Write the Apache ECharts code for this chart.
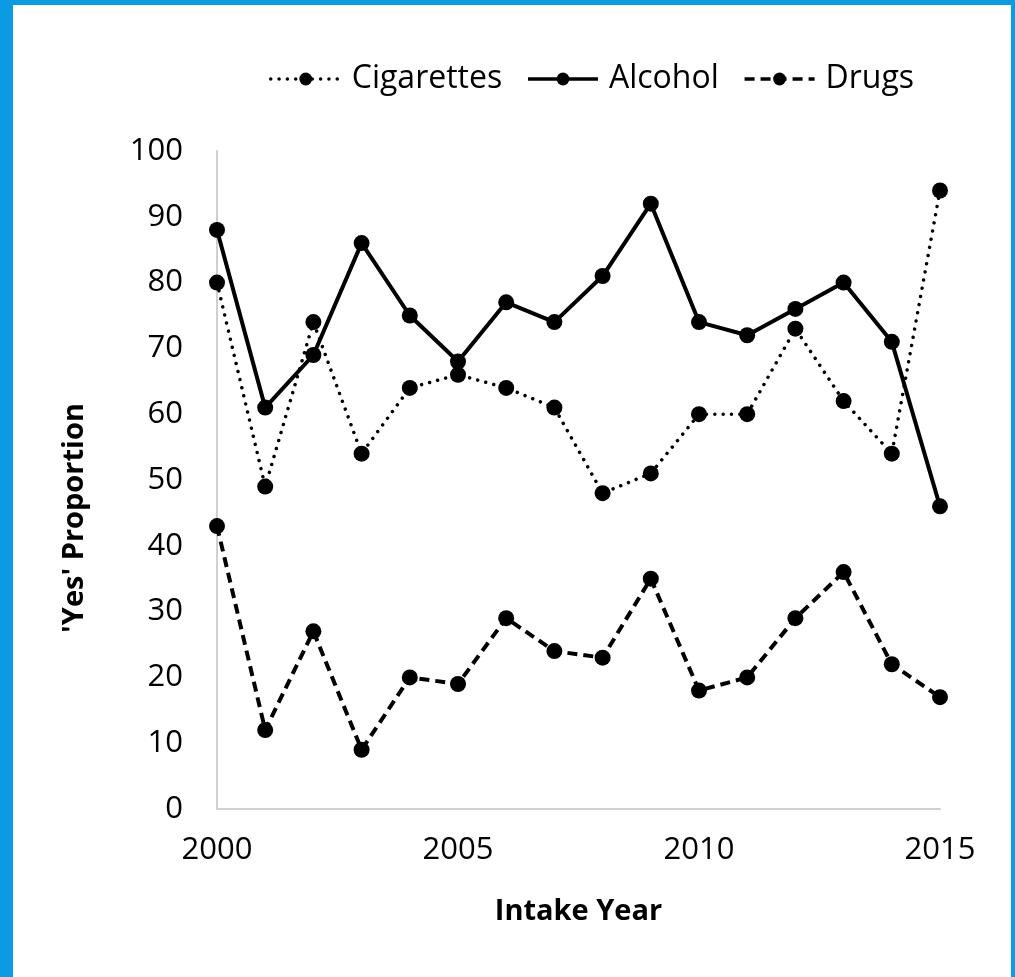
<!DOCTYPE html>
<html>
<head>
<meta charset="utf-8">
<script src="https://cdn.jsdelivr.net/npm/echarts@6/dist/echarts.min.js"></script>
<style>
html,body{margin:0;padding:0;background:#fff;}
#chart{width:1015px;height:977px;}
</style>
</head>
<body>
<div id="chart"></div>
<script>
var years = [2000,2001,2002,2003,2004,2005,2006,2007,2008,2009,2010,2011,2012,2013,2014,2015];
var cigarettes = [80,49,74,54,64,66,64,61,48,51,60,60,73,62,54,94];
var alcohol = [88,61,69,86,75,68,77,74,81,92,74,72,76,80,71,46];
var drugs = [43,12,27,9,20,19,29,24,23,35,18,20,29,36,22,17];
var seriesNames = ['Cigarettes','Alcohol','Drugs'];
var xTitle = 'Intake Year';
var yTitle = "'Yes' Proportion";

function pairs(vals){ return years.map(function(y,i){ return [y, vals[i]]; }); }

var FONT = "'Open Sans', sans-serif";
var chart = echarts.init(document.getElementById('chart'));
var common = { type:'line', symbol:'circle', symbolSize:16, itemStyle:{color:'#000'} };
chart.setOption({
  backgroundColor:'#fff',
  animation:false,
  textStyle:{fontFamily:FONT},
  graphic:[
    {type:'rect', shape:{x:0,y:0,width:13,height:977}, style:{fill:'#0B9BE0'}},
    {type:'rect', shape:{x:0,y:0,width:1015,height:5}, style:{fill:'#0B9BE0'}},
    {type:'rect', shape:{x:1011,y:0,width:4,height:977}, style:{fill:'#0B9BE0'}}
  ],
  legend:{
    left:264, top:58,
    itemWidth:70, itemHeight:16, itemGap:24,
    lineStyle:{width:3.5},
    textStyle:{fontSize:32, color:'#000', fontFamily:FONT, padding:[0,0,0,6]},
    data:seriesNames
  },
  grid:{left:217, right:75, top:151, bottom:168},
  xAxis:{
    type:'value', min:2000, max:2015, interval:5,
    name:xTitle, nameLocation:'middle', nameGap:88,
    nameTextStyle:{fontSize:29, fontWeight:'bold', color:'#000', fontFamily:FONT},
    axisLine:{lineStyle:{color:'#d0d0d0', width:2}},
    axisTick:{show:false}, splitLine:{show:false},
    axisLabel:{fontSize:31, color:'#000', margin:26, fontFamily:FONT,
      formatter:function(v){ return String(v); }}
  },
  yAxis:{
    type:'value', min:0, max:100, interval:10,
    name:yTitle, nameLocation:'middle', nameGap:128,
    nameTextStyle:{fontSize:29, fontWeight:'bold', color:'#000', fontFamily:FONT, padding:[0,76,0,0]},
    axisLine:{show:true, lineStyle:{color:'#d0d0d0', width:2}},
    axisTick:{show:false}, splitLine:{show:false},
    axisLabel:{fontSize:31, color:'#000', margin:34, fontFamily:FONT}
  },
  series:[
    Object.assign({}, common, {name:seriesNames[0], data:pairs(cigarettes), z:3,
      lineStyle:{color:'#000', width:3.5, type:[0.01,8.3], cap:'round'}}),
    Object.assign({}, common, {name:seriesNames[1], data:pairs(alcohol), z:4,
      lineStyle:{color:'#000', width:4, type:'solid'}}),
    Object.assign({}, common, {name:seriesNames[2], data:pairs(drugs), z:2,
      lineStyle:{color:'#000', width:4, type:[10,6]}})
  ]
});
</script>
</body>
</html>
